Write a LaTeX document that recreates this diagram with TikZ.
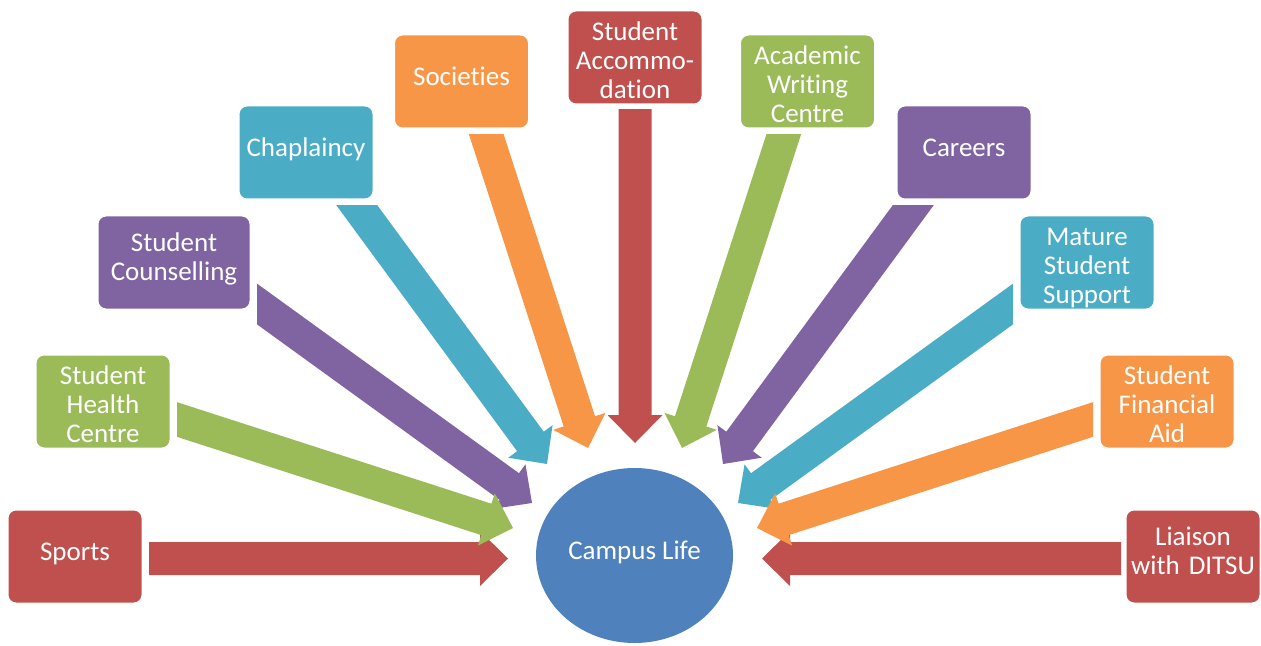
\documentclass[tikz,border=0pt]{standalone}
\usepackage{fontspec}
\setmainfont{Carlito}[Ligatures={CommonOff,RequiredOff,ContextualOff},Contextuals=AlternateOff]
\usepackage{tikz}
\usetikzlibrary{shapes.geometric,calc}

\definecolor{cred}{HTML}{C0504D}
\definecolor{cgreen}{HTML}{9BBB59}
\definecolor{cpurple}{HTML}{8064A2}
\definecolor{cteal}{HTML}{4BACC6}
\definecolor{corange}{HTML}{F79646}
\definecolor{cblue}{HTML}{4F81BD}

% block arrow: colour, start, tip, clip region of the start edge
\newcommand{\spoke}[4]{%
  \begin{scope}
    \clip #4;
    \path ($(#2)!-12pt!(#3)$) coordinate (back)
          ($(#3)!14pt!(#2)$) coordinate (neck);
    \fill[#1] ($(back)!8.25pt!90:(#3)$) -- ($(neck)!8.25pt!90:(#3)$)
      -- ($(neck)!13.75pt!90:(#3)$) -- (#3) -- ($(neck)!13.75pt!-90:(#3)$)
      -- ($(neck)!8.25pt!-90:(#3)$) -- ($(back)!8.25pt!-90:(#3)$) -- cycle;
  \end{scope}}

\begin{document}
\begin{tikzpicture}[x=0.5pt,y=-0.5pt,
  unit/.style={rectangle, rounded corners=4.5pt, draw=white, line width=1.5pt,
    text=white, align=center, inner sep=0pt, text width=68pt,
    minimum height=47.5pt, font=\fontsize{13.5}{14.6}\selectfont},
  one/.style={text height=25.75pt, text depth=21.75pt},
  two/.style={text height=18.2pt, text depth=29.3pt},
  three/.style={text height=15.25pt, text depth=32.25pt},
  hub/.style={ellipse, fill=cblue, text=white, inner sep=0pt,
    minimum width=98.5pt, minimum height=87.5pt, text height=10pt,
    text depth=5.7pt, font=\fontsize{13.5}{14.6}\selectfont}]
\useasboundingbox (0,0) rectangle (1261,646);
\coordinate (nw) at (0,0);
\coordinate (se) at (1261,646);

% start and tip of each arrow
\coordinate (sportsS) at (149,558.5);
\coordinate (sportsT) at (508,558.5);
\coordinate (ditsuS) at (1121,558.5);
\coordinate (ditsuT) at (762,558.5);
\coordinate (counselS) at (257,304);
\coordinate (counselT) at (532,503);
\coordinate (matureS) at (1013,304);
\coordinate (matureT) at (738,503);
\coordinate (healthS) at (177,419.5);
\coordinate (healthT) at (513,528);
\coordinate (aidS) at (1093,419.5);
\coordinate (aidT) at (757,528);
\coordinate (chapS) at (357,205.5);
\coordinate (chapT) at (547,464);
\coordinate (careersS) at (913,205.5);
\coordinate (careersT) at (723,464);
\coordinate (socS) at (486.5,135);
\coordinate (socT) at (588,448);
\coordinate (writingS) at (783.5,135);
\coordinate (writingT) at (682,448);
\coordinate (accomS) at (635,110);
\coordinate (accomT) at (635,443);

% arrows
\spoke{cred}{sportsS}{sportsT}{(sportsS |- nw) rectangle (se)}
\spoke{cred}{ditsuS}{ditsuT}{(nw) rectangle (ditsuS |- se)}
\spoke{cpurple}{counselS}{counselT}{(counselS |- nw) rectangle (se)}
\spoke{cteal}{matureS}{matureT}{(nw) rectangle (matureS |- se)}
\spoke{cgreen}{healthS}{healthT}{(healthS |- nw) rectangle (se)}
\spoke{corange}{aidS}{aidT}{(nw) rectangle (aidS |- se)}
\spoke{cteal}{chapS}{chapT}{(nw |- chapS) rectangle (se)}
\spoke{cpurple}{careersS}{careersT}{(nw |- careersS) rectangle (se)}
\spoke{corange}{socS}{socT}{(nw |- socS) rectangle (se)}
\spoke{cgreen}{writingS}{writingT}{(nw |- writingS) rectangle (se)}
\spoke{cred}{accomS}{accomT}{(nw |- accomS) rectangle (se)}

% boxes
\node[unit,one,fill=cred] (sports) at (75,556.5) {Sports};
\node[unit,three,fill=cgreen] (health) at (103,401.5) {Student\\Health\\Centre};
\node[unit,two,fill=cpurple,text width=77pt] (counsel) at (174,262.5) {Student\\Counselling};
\node[unit,one,fill=cteal] (chap) at (306,152.5) {Chaplaincy};
\node[unit,one,fill=corange] (soc) at (461.5,81.5) {Societies};
\node[unit,three,fill=cred] (accom) at (635,57.5) {Student\\Accommo-\\dation};
\node[unit,three,fill=cgreen] (writing) at (807.5,81.5) {Academic\\Writing\\Centre};
\node[unit,one,fill=cpurple] (careers) at (964,152.5) {Careers};
\node[unit,three,fill=cteal] (mature) at (1087,262.5) {Mature\\Student\\Support};
\node[unit,three,fill=corange] (aid) at (1167,401.5) {Student\\Financial\\Aid};
\node[unit,two,fill=cred] (ditsu) at (1193,556.5) {Liaison\\with DITSU};

\node[hub] (campus) at (634.5,555.5) {Campus Life};
\end{tikzpicture}
\end{document}
